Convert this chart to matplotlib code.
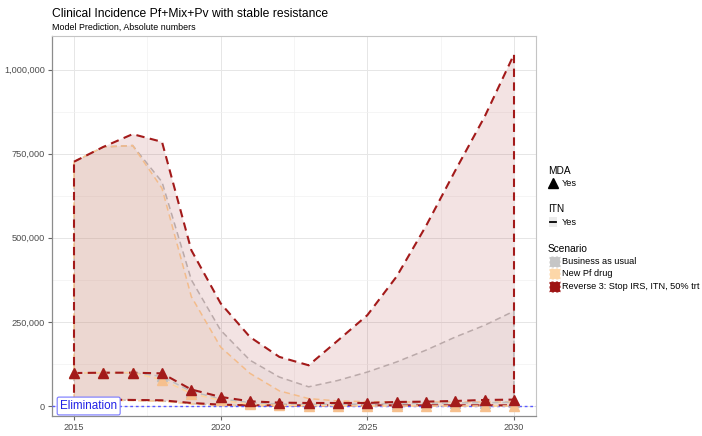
import matplotlib
matplotlib.use("Agg")
import matplotlib.pyplot as plt
from matplotlib.patches import Rectangle
from matplotlib.lines import Line2D
from matplotlib.ticker import FuncFormatter, MultipleLocator
import numpy as np

plt.rcParams["font.family"] = ["Liberation Sans", "DejaVu Sans"]

years = np.arange(2015, 2031)

# values in absolute cases
bau_hi = np.array([726, 770, 774, 666, 375, 225, 136, 86, 57, 76, 101, 131, 166, 205, 240, 282]) * 1000
bau_mid = np.array([98, 99, 99, 88, 43, 21, 10, 6, 5, 5, 6, 7, 8, 9, 10, 11]) * 1000
bau_lo = np.array([18, 18, 17, 15, 7, 2, 1, 0, 0, 0, 0, 0, 0, 0, 0, 0]) * 1000

pf_hi = np.array([726, 770, 774, 647, 325, 175, 97, 45, 22, 15, 13, 12, 12, 12, 12, 12]) * 1000
pf_mid = np.array([98, 99, 99, 78, 37, 17, 5, 2, 1, 1, 0, 0, 0, 0, 0, 0]) * 1000
pf_lo = np.array([17, 17, 16, 14, 6, 2, 0, 0, 0, 0, 0, 0, 0, 0, 0, 0]) * 1000

rev_hi = np.array([726, 770, 808, 785, 463, 305, 205, 146, 121, 195, 270, 385, 535, 700, 860, 1045]) * 1000
rev_mid = np.array([98, 99, 99, 97, 49, 27, 14, 10, 9, 9, 9, 12, 13, 15, 18, 19]) * 1000
rev_lo = np.array([19, 19, 18, 17, 9, 4, 2, 2, 2, 2, 2, 2, 2, 2, 2, 2]) * 1000

scenarios = ["Business as usual", "New Pf drug", "Reverse 3: Stop IRS, ITN, 50% trt"]
colors = ["#BEBEBE", "#FFD39B", "#A31A1A"]
point_colors = ["#BEBEBE", "#F6C08E", "#A31A1A"]
highs = [bau_hi, pf_hi, rev_hi]
mids = [bau_mid, pf_mid, rev_mid]
lows = [bau_lo, pf_lo, rev_lo]

W, H = 702, 436
fig = plt.figure(figsize=(W / 100, H / 100), dpi=100)
ax = fig.add_axes([52 / W, 20 / H, 484 / W, 380.3 / H])


def fx(px):
    return px / W


def fy(py):
    return 1 - py / H


# ribbons with dashed outline
for hi, lo, c in zip(highs, lows, colors):
    xs = np.concatenate([years, years[::-1]])
    ys = np.concatenate([hi, lo[::-1]])
    lw = 1.5 if c == colors[2] else 1.1
    ax.fill(xs, ys, facecolor=matplotlib.colors.to_rgba(c, 0.12), edgecolor=c,
            linewidth=lw, linestyle=(0, (4, 2.6)), zorder=2)

# elimination line
ax.axhline(0, color="#5A5AFF", linewidth=1.0, linestyle=(0, (2, 2)), zorder=3)

# medians with MDA triangles
for mid, c, pc in zip(mids, colors, point_colors):
    lw = 1.5 if c == colors[2] else 1.1
    ax.plot(years, mid, color=c, linewidth=lw, linestyle=(0, (4, 2.6)), zorder=4)
    ax.plot(years, mid, linestyle="none", marker="^", markersize=7.5,
            color=pc, zorder=5)

ax.text(2015.5, 0, "Elimination", ha="center", va="center", color="#2222E6",
        fontsize=8.4, zorder=6,
        bbox=dict(boxstyle="round,pad=0.25,rounding_size=0.15", fc="white",
                  ec="#7777FF", lw=0.8))

ax.set_xlim(2014.25, 2030.75)
ax.set_ylim(-29700, 1100500)
ax.xaxis.set_major_locator(MultipleLocator(5))
ax.xaxis.set_minor_locator(MultipleLocator(2.5))
ax.yaxis.set_major_locator(MultipleLocator(250000))
ax.yaxis.set_minor_locator(MultipleLocator(125000))
ax.yaxis.set_major_formatter(FuncFormatter(lambda v, p: f"{int(v):,}"))
ax.grid(which="major", color="#E6E6E6", linewidth=0.7, zorder=0)
ax.grid(which="minor", color="#F1F1F1", linewidth=0.5, zorder=0)
ax.set_axisbelow(True)
ax.tick_params(which="major", length=3, color="#666666", labelsize=6.6,
               labelcolor="#4D4D4D", pad=2)
ax.tick_params(which="minor", length=0)
for side in ["left", "bottom"]:
    ax.spines[side].set_color("#8C8C8C")
    ax.spines[side].set_linewidth(0.9)
for side in ["top", "right"]:
    ax.spines[side].set_color("#C4C4C4")
    ax.spines[side].set_linewidth(0.8)

fig.text(fx(52), fy(14), "Clinical Incidence Pf+Mix+Pv with stable resistance",
         fontsize=8.7, va="center", ha="left", color="black")
fig.text(fx(52), fy(27), "Model Prediction, Absolute numbers",
         fontsize=6.4, va="center", ha="left", color="black")

# legends
fig.text(fx(548), fy(171), "MDA", fontsize=7.3, va="center")
fig.add_artist(Line2D([fx(553)], [fy(183)], marker="^", markersize=6.8,
                      color="black", linestyle="none"))
fig.text(fx(561.5), fy(183), "Yes", fontsize=6.6, va="center")

fig.text(fx(548), fy(209.5), "ITN", fontsize=7.3, va="center")
fig.add_artist(Rectangle((fx(548.5), fy(227.5)), 8 / W, 10 / H,
                         facecolor="#EBEBEB", edgecolor="none"))
fig.add_artist(Line2D([fx(549.5), fx(556)], [fy(222.5), fy(222.5)],
                      color="black", linewidth=1.3))
fig.text(fx(561.5), fy(222.5), "Yes", fontsize=6.6, va="center")

fig.text(fx(548), fy(248.5), "Scenario", fontsize=7.3, va="center")
key_cols = ["#C6C6C6", "#FDD7A8", "#9E1414"]
for i, (name, kc) in enumerate(zip(scenarios, key_cols)):
    cy = 261.5 + i * 12.3
    fig.add_artist(Rectangle((fx(548.5), fy(cy + 5.6)), 11 / W, 11.2 / H,
                             facecolor=kc, edgecolor="white", linewidth=0.8,
                             linestyle=(0, (2, 2))))
    fig.text(fx(562), fy(cy), name, fontsize=6.6, va="center")

fig.savefig("out.png", dpi=100)
